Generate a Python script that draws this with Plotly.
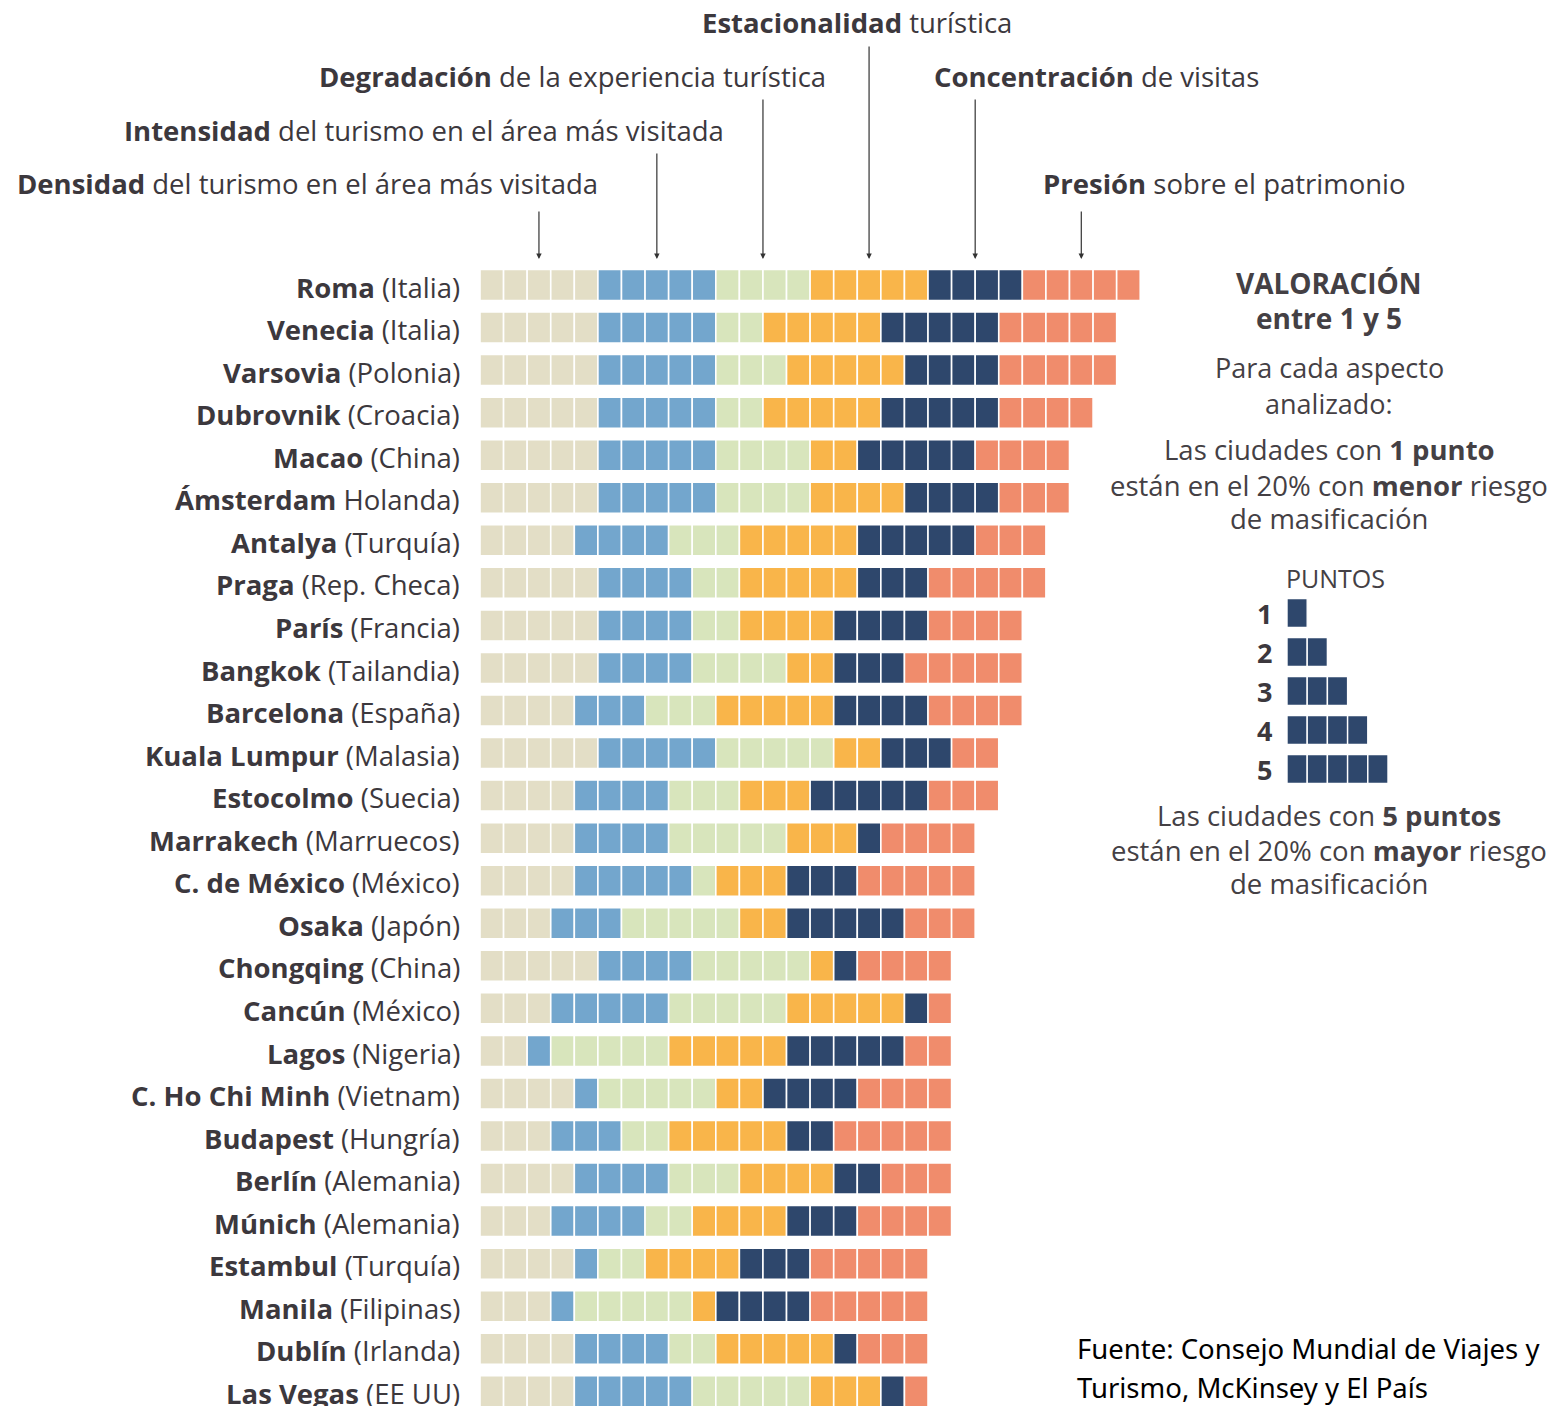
import plotly.graph_objects as go

W, H = 1562, 1406

cities = ["Roma", "Venecia", "Varsovia", "Dubrovnik", "Macao", "Ámsterdam", "Antalya",
          "Praga", "París", "Bangkok", "Barcelona", "Kuala Lumpur", "Estocolmo", "Marrakech",
          "C. de México", "Osaka", "Chongqing", "Cancún", "Lagos", "C. Ho Chi Minh",
          "Budapest", "Berlín", "Múnich", "Estambul", "Manila", "Dublín", "Las Vegas"]
countries = ["(Italia)", "(Italia)", "(Polonia)", "(Croacia)", "(China)", "Holanda)", "(Turquía)",
             "(Rep. Checa)", "(Francia)", "(Tailandia)", "(España)", "(Malasia)", "(Suecia)",
             "(Marruecos)", "(México)", "(Japón)", "(China)", "(México)", "(Nigeria)", "(Vietnam)",
             "(Hungría)", "(Alemania)", "(Alemania)", "(Turquía)", "(Filipinas)", "(Irlanda)", "(EE UU)"]

densidad       = [5, 5, 5, 5, 5, 5, 4, 5, 5, 5, 4, 5, 4, 4, 4, 3, 5, 3, 2, 4, 3, 4, 3, 4, 3, 4, 4]
intensidad     = [5, 5, 5, 5, 5, 5, 4, 4, 4, 4, 3, 5, 4, 4, 5, 3, 4, 5, 1, 1, 3, 4, 4, 1, 1, 4, 5]
degradacion    = [4, 2, 3, 2, 4, 4, 3, 2, 2, 4, 3, 5, 3, 5, 1, 5, 5, 5, 5, 5, 2, 3, 2, 2, 5, 2, 5]
estacionalidad = [5, 5, 5, 5, 2, 4, 5, 5, 4, 2, 5, 2, 3, 3, 3, 2, 1, 5, 5, 2, 5, 4, 4, 4, 1, 5, 3]
concentracion  = [4, 5, 4, 5, 5, 4, 5, 3, 4, 3, 4, 3, 5, 1, 3, 5, 1, 1, 5, 4, 2, 2, 3, 3, 4, 1, 1]
presion        = [5, 5, 5, 4, 4, 3, 3, 5, 4, 5, 4, 2, 3, 4, 5, 3, 4, 1, 2, 4, 5, 3, 4, 5, 5, 3, 1]

aspect_bold = ["Densidad", "Intensidad", "Degradación", "Estacionalidad", "Concentración", "Presión"]
aspect_rest = ["del turismo en el área más visitada", "del turismo en el área más visitada",
               "de la experiencia turística", "turística", "de visitas", "sobre el patrimonio"]

legend_points = [1, 2, 3, 4, 5]

series = [densidad, intensidad, degradacion, estacionalidad, concentracion, presion]
colors = ["#e3dec6", "#73a6cd", "#d8e5bc", "#f9b54a", "#2e476c", "#f08c6c"]

# ---- layout geometry (pixels) ----
X0, UX = 480, 23.58          # bar start, unit width
Y0, DY = 285, 42.55          # first row centre, row pitch
LX0, LUX = 1287, 20.2        # legend squares
LY0, LDY = 613, 39

TXT = "#3c383d"
FONT = "Open Sans"

fig = go.Figure()

offsets = [0] * len(cities)
for s, col in zip(series, colors):
    ys, bases = [], []
    for i, v in enumerate(s):
        for k in range(v):
            ys.append(i)
            bases.append(offsets[i] + k)
        offsets[i] += v
    fig.add_trace(go.Bar(
        orientation="h", y=ys, x=[1] * len(ys), base=bases, width=0.73,
        marker=dict(color=col, line=dict(color="white", width=1.6)),
        hoverinfo="skip", xaxis="x", yaxis="y"))

# legend squares
ly, lb = [], []
for v in legend_points:
    for k in range(v):
        ly.append(v)
        lb.append(k)
fig.add_trace(go.Bar(
    orientation="h", y=ly, x=[1] * len(ly), base=lb, width=0.74,
    marker=dict(color=colors[4], line=dict(color="white", width=1.4)),
    hoverinfo="skip", xaxis="x2", yaxis="y2"))

ann = []
def px(x): return x / W
def py(y): return 1 - y / H

# city labels
for i, (c, p) in enumerate(zip(cities, countries)):
    ann.append(dict(xref="paper", yref="y", x=px(462), y=i + 0.05, xanchor="right", yanchor="middle",
                    text=f"<b>{c}</b> {p}", showarrow=False,
                    font=dict(family=FONT, size=27.5, color=TXT)))

# header labels
head_pos = [(15, 184), (122, 130), (317, 77), (700, 22), (932, 77), (1041, 184)]
arrow_top = [210, 152, 98, 45, 98, 210]
cum = 0
for j, s in enumerate(series):
    v0 = s[0]
    centre = cum + v0 / 2
    cum += v0
    hx, hy = head_pos[j]
    ann.append(dict(xref="paper", yref="paper", x=px(hx), y=py(hy), xanchor="left", yanchor="middle",
                    text=f"<b>{aspect_bold[j]}</b> {aspect_rest[j]}", showarrow=False,
                    font=dict(family=FONT, size=27.5, color=TXT)))
    ann.append(dict(xref="x", yref="paper", x=centre, y=py(259), text="", showarrow=True,
                    ax=0, ay=-(259 - arrow_top[j]), axref="pixel", ayref="pixel",
                    arrowhead=2, arrowsize=0.9, arrowwidth=1.2, arrowcolor="#333333"))

# legend text
LC = 1329
leg_lines = [("<b>VALORACIÓN</b>", 283, 28), ("<b>entre 1 y 5</b>", 318, 28),
             ("Para cada aspecto", 368, 27), ("analizado:", 403, 27),
             ("Las ciudades con <b>1 punto</b>", 450, 27.5),
             ("están en el 20% con <b>menor</b> riesgo", 485, 27.5),
             ("de masificación", 518, 27.5),
             ("Las ciudades con <b>5 puntos</b>", 815, 27.5),
             ("están en el 20% con <b>mayor</b> riesgo", 850, 27.5),
             ("de masificación", 883, 27.5)]
for t, y, sz in leg_lines:
    ann.append(dict(xref="paper", yref="paper", x=px(LC), y=py(y), xanchor="center", yanchor="middle",
                    text=t, showarrow=False, font=dict(family=FONT, size=sz, color="#444044")))
ann.append(dict(xref="paper", yref="paper", x=px(1335), y=py(578), xanchor="center", yanchor="middle",
                text="PUNTOS", showarrow=False, font=dict(family=FONT, size=25, color="#444044")))
for v in legend_points:
    ann.append(dict(xref="paper", yref="y2", x=px(1274), y=v, xanchor="right", yanchor="middle",
                    text=f"<b>{v}</b>", showarrow=False, font=dict(family=FONT, size=27, color=TXT)))

# source
for t, y in [("Fuente: Consejo Mundial de Viajes y", 1348), ("Turismo, McKinsey y El País", 1387)]:
    ann.append(dict(xref="paper", yref="paper", x=px(1075), y=py(y), xanchor="left", yanchor="middle",
                    text=t, showarrow=False, font=dict(family="Noto Sans", size=27.5, color="#000000")))

fig.update_layout(
    width=W, height=H, margin=dict(l=0, r=0, t=0, b=0),
    paper_bgcolor="white", plot_bgcolor="rgba(0,0,0,0)",
    barmode="overlay", showlegend=False, annotations=ann,
    xaxis=dict(domain=[0, 1], range=[-X0 / UX, (W - X0) / UX], visible=False, fixedrange=True),
    yaxis=dict(domain=[0, 1], range=[(H - Y0) / DY, -Y0 / DY], visible=False, fixedrange=True),
    xaxis2=dict(domain=[0, 1], range=[-LX0 / LUX, (W - LX0) / LUX], visible=False,
                anchor="y2", fixedrange=True),
    yaxis2=dict(domain=[0, 1], range=[1 + (H - LY0) / LDY, 1 - LY0 / LDY], visible=False,
                anchor="x2", fixedrange=True),
)

fig.write_html("out.html", config={"displayModeBar": False},
               post_script="document.body.style.margin='0px';"
                           "document.body.style.overflow='hidden';")
